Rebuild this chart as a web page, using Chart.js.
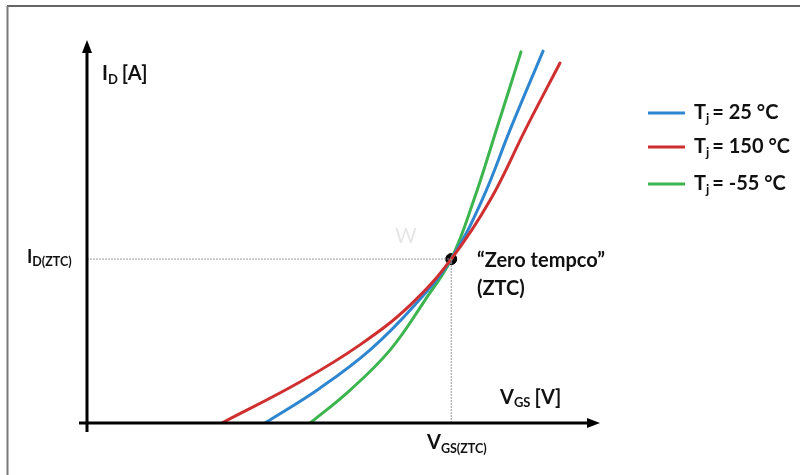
<!DOCTYPE html>
<html>
<head>
<meta charset="utf-8">
<script src="https://cdn.jsdelivr.net/npm/chart.js@4.4.1/dist/chart.umd.min.js"></script>
<style>
  html, body { margin: 0; padding: 0; background: #fff; }
  #wrap { position: relative; width: 800px; height: 475px; }
</style>
</head>
<body>
<div id="wrap"><canvas id="c"></canvas></div>
<script>
// Arbitrary units (x: V_GS, y: I_D), both axes 0..100
const seriesNames = ['Tj = 25 °C', 'Tj = 150 °C', 'Tj = -55 °C'];
const legendTemps = ['25 °C', '150 °C', '-55 °C'];

const vgs25  = [34.7, 45.4, 55.2, 63.9, 71.0, 77.0, 82.7, 88.9];
const id25   = [0,    9.1,  19.1, 30.8, 42.8, 58.2, 77.3, 97.1];

const vgs150 = [26.3, 41.5, 53.2, 63.0, 71.0, 78.6, 85.6, 92.2];
const id150  = [0,    10.7, 20.4, 30.8, 42.8, 58.2, 77.0, 94.0];

const vgsM55 = [43.5, 51.3, 59.1, 65.9, 71.0, 75.4, 80.1, 84.6];
const idM55  = [0,    8.6,  19.1, 32.1, 42.8, 58.2, 77.8, 96.9];

const ztcVgs = 71.0;
const ztcId  = 42.8;

const axisMin = 0, axisMax = 100;

const toPts = (xs, ys) => xs.map((x, i) => ({ x: x, y: ys[i] }));

const COLORS = { blue: '#2f86d0', red: '#cf2f2f', green: '#3db54f' };

const FONT = 'Lato, "Open Sans", "DejaVu Sans", sans-serif';

function drawRich(ctx, x, y, parts) {
  let cx = x;
  for (const p of parts) {
    ctx.font = 'bold ' + p.s + 'px ' + FONT;
    ctx.fillText(p.t, cx, y + (p.dy || 0));
    cx += ctx.measureText(p.t).width + (p.gap || 0);
  }
}

const decor = {
  id: 'decor',
  beforeDraw(chart) {
    const ctx = chart.ctx;
    ctx.save();
    // frame
    ctx.strokeStyle = '#333';
    ctx.lineWidth = 1.5;
    ctx.beginPath(); ctx.moveTo(7, 6); ctx.lineTo(800, 6); ctx.stroke();
    ctx.strokeStyle = '#7a7a7a';
    ctx.lineWidth = 2;
    ctx.beginPath(); ctx.moveTo(7.5, 6); ctx.lineTo(7.5, 475); ctx.stroke();
    // faint watermark
    ctx.fillStyle = '#e6e6e6';
    ctx.font = '21px ' + FONT;
    ctx.fillText('W', 395, 243);
    ctx.restore();
  },
  afterDatasetsDraw(chart) {
    const ctx = chart.ctx;
    const xs = chart.scales.x, ys = chart.scales.y;
    const x0 = xs.getPixelForValue(axisMin);
    const y0 = ys.getPixelForValue(axisMin);
    const top = ys.getPixelForValue(axisMax);
    const right = xs.getPixelForValue(axisMax);
    ctx.save();
    ctx.strokeStyle = '#000';
    ctx.fillStyle = '#000';
    ctx.lineWidth = 3;
    // y axis
    ctx.beginPath(); ctx.moveTo(x0, y0 + 9); ctx.lineTo(x0, top + 10); ctx.stroke();
    ctx.beginPath(); ctx.moveTo(x0, top); ctx.lineTo(x0 - 5, top + 13); ctx.lineTo(x0 + 5, top + 13); ctx.closePath(); ctx.fill();
    // x axis
    ctx.beginPath(); ctx.moveTo(x0 - 8, y0); ctx.lineTo(right - 10, y0); ctx.stroke();
    ctx.beginPath(); ctx.moveTo(right, y0); ctx.lineTo(right - 13, y0 - 5); ctx.lineTo(right - 13, y0 + 5); ctx.closePath(); ctx.fill();

    // texts
    ctx.fillStyle = '#111';
    ctx.textBaseline = 'alphabetic';
    drawRich(ctx, 102, 80, [{t:'I', s:20}, {t:'D', s:13, dy:4, gap:4}, {t:'[A]', s:20}]);
    drawRich(ctx, 27, 263, [{t:'I', s:18}, {t:'D(ZTC)', s:12.5, dy:3}]);
    drawRich(ctx, 500, 404, [{t:'V', s:20}, {t:'GS', s:13, dy:3, gap:4}, {t:'[V]', s:20}]);
    drawRich(ctx, 427, 449, [{t:'V', s:20}, {t:'GS(ZTC)', s:12.5, dy:4}]);
    drawRich(ctx, 477, 267, [{t:'\u201CZero tempco\u201D', s:20}]);
    drawRich(ctx, 477, 295, [{t:'(ZTC)', s:20}]);

    // legend
    const legendCols = [COLORS.blue, COLORS.red, COLORS.green];
    const legendY = [113, 147, 184];
    for (let i = 0; i < 3; i++) {
      ctx.strokeStyle = legendCols[i];
      ctx.lineWidth = 3;
      ctx.beginPath(); ctx.moveTo(648, legendY[i]); ctx.lineTo(685, legendY[i]); ctx.stroke();
      ctx.fillStyle = '#111';
      drawRich(ctx, 694, legendY[i] + 6, [{t:'T', s:20}, {t:'j', s:13, dy:4, gap:3}, {t:'= ' + legendTemps[i], s:20}]);
    }
    ctx.restore();
  }
};

const curve = (label, pts, color) => ({
  label: label, data: pts, showLine: true, borderColor: color,
  borderWidth: 3, pointRadius: 0, tension: 0.4, borderCapStyle: 'round'
});

new Chart(document.getElementById('c'), {
  type: 'scatter',
  data: {
    datasets: [
      { label: 'guideH', data: [{x: axisMin, y: ztcId}, {x: ztcVgs, y: ztcId}], showLine: true,
        borderColor: '#9a9a9a', borderWidth: 1, borderDash: [2, 1], pointRadius: 0 },
      { label: 'guideV', data: [{x: ztcVgs, y: axisMin}, {x: ztcVgs, y: ztcId}], showLine: true,
        borderColor: '#9a9a9a', borderWidth: 1, borderDash: [2, 1], pointRadius: 0 },
      curve(seriesNames[1], toPts(vgs150, id150), COLORS.red),
      curve(seriesNames[0], toPts(vgs25, id25), COLORS.blue),
      curve(seriesNames[2], toPts(vgsM55, idM55), COLORS.green),
      { label: 'ZTC', data: [{x: ztcVgs, y: ztcId}], pointRadius: 5.5, pointBackgroundColor: '#000',
        pointBorderColor: '#000', showLine: false }
    ]
  },
  options: {
    responsive: true,
    maintainAspectRatio: false,
    animation: false,
    layout: { padding: { left: 87, right: 200, top: 40, bottom: 52 } },
    scales: {
      x: { type: 'linear', min: axisMin, max: axisMax, display: false },
      y: { type: 'linear', min: axisMin, max: axisMax, display: false }
    },
    plugins: { legend: { display: false }, tooltip: { enabled: false } }
  },
  plugins: [decor]
});
</script>
</body>
</html>
